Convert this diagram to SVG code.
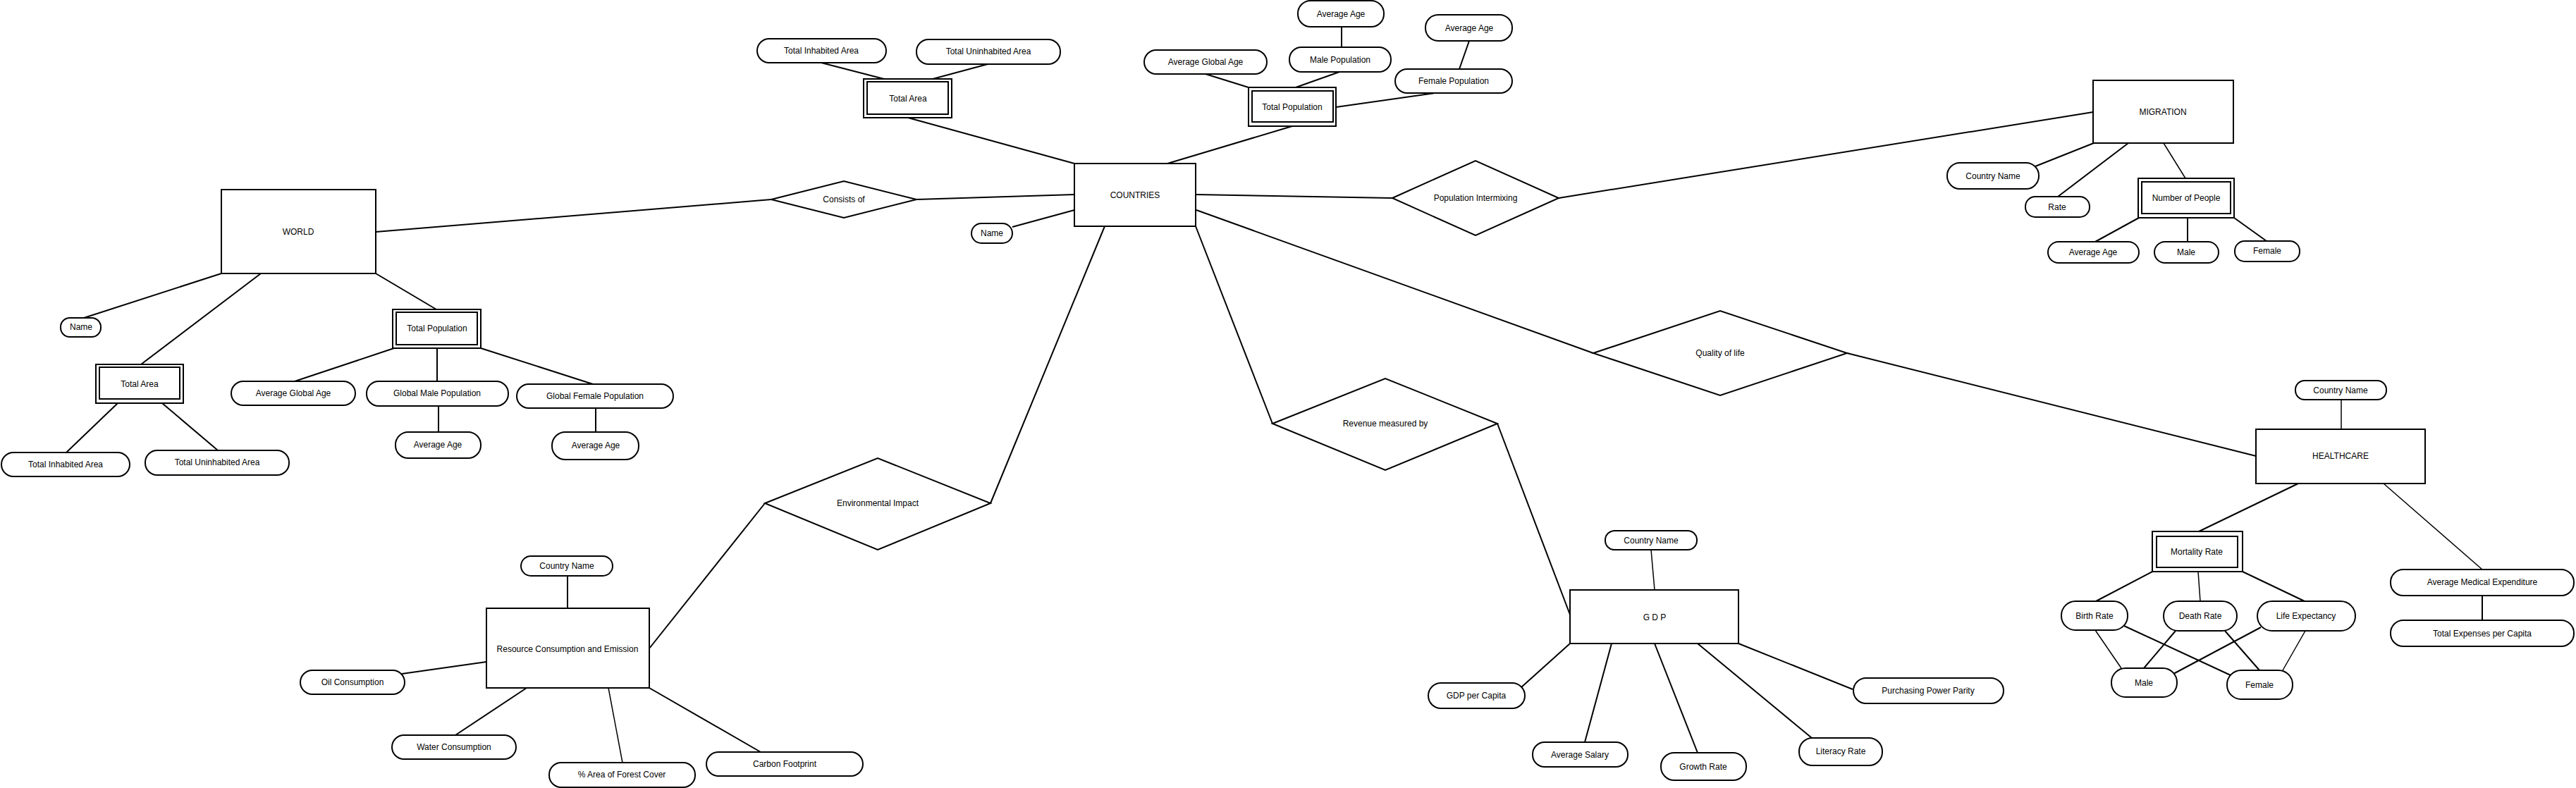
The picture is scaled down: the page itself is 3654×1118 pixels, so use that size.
<svg xmlns="http://www.w3.org/2000/svg" width="3654" height="1118" viewBox="0 0 3654 1118">
<style>
.bg{fill:#fff}
.s{fill:#fff;stroke:#000;stroke-width:2}
.t{font-family:"Liberation Sans",Arial,sans-serif;font-size:12px;fill:#000;text-anchor:middle;dominant-baseline:central}
.c line{stroke:#000;stroke-width:2}
.c line.th{stroke-width:1.5}
</style>
<rect class="bg" x="0" y="0" width="3654" height="1118"/>
<g id="connectors" class="c">
<line x1="533" y1="329" x2="1094" y2="283"/>
<line x1="1300" y1="283" x2="1524" y2="276"/>
<line x1="314" y1="388" x2="119" y2="451"/>
<line x1="370" y1="388" x2="200" y2="517"/>
<line x1="167" y1="572" x2="94" y2="642"/>
<line x1="230" y1="572" x2="309" y2="639"/>
<line x1="533" y1="388" x2="619" y2="439"/>
<line x1="559" y1="494" x2="418" y2="541"/>
<line x1="620" y1="494" x2="620" y2="541"/>
<line x1="682" y1="494" x2="841" y2="545"/>
<line x1="622" y1="576" x2="622" y2="613"/>
<line x1="845" y1="579" x2="845" y2="613"/>
<line x1="1524" y1="298" x2="1436" y2="322"/>
<line x1="1524" y1="232" x2="1288" y2="167"/>
<line x1="1254" y1="112" x2="1165" y2="89"/>
<line x1="1323" y1="112" x2="1401" y2="91"/>
<line x1="1656" y1="232" x2="1833" y2="179"/>
<line x1="1771" y1="124" x2="1710" y2="105"/>
<line x1="1838" y1="124" x2="1900" y2="102"/>
<line x1="1903" y1="67" x2="1903" y2="38"/>
<line x1="1895" y1="152" x2="2035" y2="132"/>
<line x1="2070" y1="98" x2="2084" y2="58"/>
<line x1="1696" y1="276" x2="1975" y2="281"/>
<line x1="2211" y1="281" x2="2969" y2="159"/>
<line x1="2970" y1="203" x2="2887" y2="236"/>
<line x1="3019" y1="203" x2="2919" y2="279"/>
<line class="th" x1="3069" y1="203" x2="3100" y2="253"/>
<line x1="3034" y1="309" x2="2972" y2="343"/>
<line x1="3103" y1="309" x2="3103" y2="343"/>
<line x1="3169" y1="309" x2="3215" y2="342"/>
<line x1="1697" y1="298" x2="2260" y2="501"/>
<line x1="2620" y1="501" x2="3200" y2="647"/>
<line class="th" x1="3321" y1="567" x2="3321" y2="609"/>
<line x1="3260" y1="686" x2="3119" y2="754"/>
<line class="th" x1="3381" y1="686" x2="3521" y2="808"/>
<line x1="3521" y1="845" x2="3521" y2="880"/>
<line x1="3053" y1="811" x2="2973" y2="853"/>
<line class="th" x1="3118" y1="811" x2="3121" y2="853"/>
<line x1="3181" y1="811" x2="3269" y2="853"/>
<line class="th" x1="2972" y1="894" x2="3009" y2="948"/>
<line x1="3013" y1="888" x2="3164" y2="958"/>
<line x1="3086" y1="895" x2="3041" y2="948"/>
<line x1="3156" y1="895" x2="3205" y2="951"/>
<line x1="3207" y1="890" x2="3083" y2="956"/>
<line class="th" x1="3270" y1="895" x2="3238" y2="951"/>
<line x1="1696" y1="321" x2="1805" y2="601"/>
<line x1="2124" y1="601" x2="2227" y2="872"/>
<line class="th" x1="2347" y1="837" x2="2342" y2="780"/>
<line x1="2227" y1="913" x2="2158" y2="975"/>
<line x1="2286" y1="913" x2="2248" y2="1053"/>
<line x1="2347" y1="913" x2="2408" y2="1068"/>
<line x1="2408" y1="913" x2="2570" y2="1047"/>
<line x1="2466" y1="913" x2="2628" y2="978"/>
<line x1="1567" y1="321" x2="1405" y2="714"/>
<line x1="1085" y1="714" x2="921" y2="920"/>
<line x1="805" y1="863" x2="805" y2="817"/>
<line x1="690" y1="939" x2="570" y2="956"/>
<line x1="747" y1="976" x2="646" y2="1043"/>
<line class="th" x1="863" y1="976" x2="883" y2="1082"/>
<line x1="921" y1="976" x2="1079" y2="1067"/>
</g>
<g id="world"><rect class="s" x="314" y="269" width="219" height="119"/><text class="t" x="423" y="329">WORLD</text></g>
<g id="w-name"><rect class="s" x="86" y="451" width="57" height="27" rx="13"/><text class="t" x="115" y="464">Name</text></g>
<g id="w-totalarea"><rect class="s" x="136" y="517" width="124" height="55"/><rect class="s" x="141" y="521" width="114" height="45"/><text class="t" x="198" y="545">Total Area</text></g>
<g id="w-tia"><rect class="s" x="2" y="642" width="182" height="34" rx="17"/><text class="t" x="93" y="659">Total Inhabited Area</text></g>
<g id="w-tua"><rect class="s" x="206" y="639" width="204" height="35" rx="17"/><text class="t" x="308" y="656">Total Uninhabited Area</text></g>
<g id="w-totalpop"><rect class="s" x="557" y="439" width="125" height="55"/><rect class="s" x="562" y="443" width="115" height="46"/><text class="t" x="620" y="466">Total Population</text></g>
<g id="w-aga"><rect class="s" x="328" y="541" width="176" height="34" rx="17"/><text class="t" x="416" y="558">Average Global Age</text></g>
<g id="w-gmp"><rect class="s" x="520" y="541" width="201" height="35" rx="17"/><text class="t" x="620" y="558">Global Male Population</text></g>
<g id="w-gfp"><rect class="s" x="733" y="545" width="222" height="34" rx="17"/><text class="t" x="844" y="562">Global Female Population</text></g>
<g id="w-aa1"><rect class="s" x="561" y="613" width="121" height="37" rx="18"/><text class="t" x="621" y="631">Average Age</text></g>
<g id="w-aa2"><rect class="s" x="783" y="613" width="123" height="39" rx="19"/><text class="t" x="845" y="632">Average Age</text></g>
<g id="consists"><polygon class="s" points="1094,283 1197,257 1300,283 1197,309"/><text class="t" x="1197" y="283">Consists of</text></g>
<g id="countries"><rect class="s" x="1524" y="232" width="172" height="89"/><text class="t" x="1610" y="277">COUNTRIES</text></g>
<g id="c-name"><rect class="s" x="1378" y="317" width="58" height="28" rx="14"/><text class="t" x="1407" y="331">Name</text></g>
<g id="c-totalarea"><rect class="s" x="1225" y="112" width="125" height="55"/><rect class="s" x="1230" y="116" width="115" height="46"/><text class="t" x="1288" y="140">Total Area</text></g>
<g id="c-tia"><rect class="s" x="1074" y="55" width="183" height="34" rx="17"/><text class="t" x="1165" y="72">Total Inhabited Area</text></g>
<g id="c-tua"><rect class="s" x="1300" y="56" width="204" height="35" rx="17"/><text class="t" x="1402" y="73">Total Uninhabited Area</text></g>
<g id="c-totalpop"><rect class="s" x="1771" y="124" width="124" height="55"/><rect class="s" x="1776" y="129" width="115" height="44"/><text class="t" x="1833" y="152">Total Population</text></g>
<g id="c-aga"><rect class="s" x="1623" y="71" width="174" height="34" rx="17"/><text class="t" x="1710" y="88">Average Global Age</text></g>
<g id="c-malepop"><rect class="s" x="1829" y="67" width="144" height="35" rx="17"/><text class="t" x="1901" y="85">Male Population</text></g>
<g id="c-aa-m"><rect class="s" x="1841" y="1" width="122" height="37" rx="18"/><text class="t" x="1902" y="20">Average Age</text></g>
<g id="c-femalepop"><rect class="s" x="1979" y="98" width="166" height="34" rx="17"/><text class="t" x="2062" y="115">Female Population</text></g>
<g id="c-aa-f"><rect class="s" x="2022" y="21" width="123" height="37" rx="18"/><text class="t" x="2084" y="40">Average Age</text></g>
<g id="intermixing"><polygon class="s" points="1975,281 2093,228 2211,281 2093,334"/><text class="t" x="2093" y="281">Population Intermixing</text></g>
<g id="migration"><rect class="s" x="2969" y="114" width="199" height="89"/><text class="t" x="3068" y="159">MIGRATION</text></g>
<g id="m-country"><rect class="s" x="2762" y="231" width="130" height="37" rx="18"/><text class="t" x="2827" y="250">Country Name</text></g>
<g id="m-rate"><rect class="s" x="2873" y="279" width="91" height="29" rx="14"/><text class="t" x="2918" y="294">Rate</text></g>
<g id="m-people"><rect class="s" x="3033" y="253" width="136" height="56"/><rect class="s" x="3038" y="258" width="126" height="45"/><text class="t" x="3101" y="281">Number of People</text></g>
<g id="m-avgage"><rect class="s" x="2905" y="343" width="129" height="30" rx="15"/><text class="t" x="2969" y="358">Average Age</text></g>
<g id="m-male"><rect class="s" x="3056" y="343" width="91" height="30" rx="15"/><text class="t" x="3101" y="358">Male</text></g>
<g id="m-female"><rect class="s" x="3170" y="342" width="92" height="29" rx="14"/><text class="t" x="3216" y="356">Female</text></g>
<g id="quality"><polygon class="s" points="2260,501 2440,441 2620,501 2440,561"/><text class="t" x="2440" y="501">Quality of life</text></g>
<g id="healthcare"><rect class="s" x="3200" y="609" width="240" height="77"/><text class="t" x="3320" y="647">HEALTHCARE</text></g>
<g id="h-country"><rect class="s" x="3256" y="540" width="129" height="27" rx="13"/><text class="t" x="3320" y="554">Country Name</text></g>
<g id="h-mortality"><rect class="s" x="3053" y="754" width="128" height="57"/><rect class="s" x="3059" y="761" width="115" height="44"/><text class="t" x="3116" y="783">Mortality Rate</text></g>
<g id="h-ame"><rect class="s" x="3391" y="808" width="260" height="37" rx="18"/><text class="t" x="3521" y="826">Average Medical Expenditure</text></g>
<g id="h-tepc"><rect class="s" x="3391" y="880" width="260" height="37" rx="18"/><text class="t" x="3521" y="899">Total Expenses per Capita</text></g>
<g id="h-birth"><rect class="s" x="2924" y="853" width="94" height="41" rx="20"/><text class="t" x="2971" y="874">Birth Rate</text></g>
<g id="h-death"><rect class="s" x="3069" y="853" width="104" height="42" rx="21"/><text class="t" x="3121" y="874">Death Rate</text></g>
<g id="h-life"><rect class="s" x="3202" y="853" width="139" height="42" rx="21"/><text class="t" x="3271" y="874">Life Expectancy</text></g>
<g id="h-male"><rect class="s" x="2995" y="948" width="93" height="41" rx="20"/><text class="t" x="3041" y="969">Male</text></g>
<g id="h-female"><rect class="s" x="3159" y="951" width="93" height="41" rx="20"/><text class="t" x="3205" y="972">Female</text></g>
<g id="revenue"><polygon class="s" points="1805,601 1965,537 2124,601 1965,667"/><text class="t" x="1965" y="601">Revenue measured by</text></g>
<g id="gdp"><rect class="s" x="2227" y="837" width="239" height="76"/><text class="t" x="2347" y="876">G D P</text></g>
<g id="g-country"><rect class="s" x="2277" y="753" width="130" height="27" rx="13"/><text class="t" x="2342" y="767">Country Name</text></g>
<g id="g-percapita"><rect class="s" x="2026" y="969" width="137" height="36" rx="18"/><text class="t" x="2094" y="987">GDP per Capita</text></g>
<g id="g-salary"><rect class="s" x="2174" y="1053" width="135" height="35" rx="17"/><text class="t" x="2241" y="1071">Average Salary</text></g>
<g id="g-growth"><rect class="s" x="2356" y="1068" width="121" height="39" rx="19"/><text class="t" x="2416" y="1088">Growth Rate</text></g>
<g id="g-literacy"><rect class="s" x="2552" y="1047" width="118" height="39" rx="19"/><text class="t" x="2611" y="1066">Literacy Rate</text></g>
<g id="g-ppp"><rect class="s" x="2629" y="962" width="213" height="36" rx="18"/><text class="t" x="2735" y="980">Purchasing Power Parity</text></g>
<g id="environmental"><polygon class="s" points="1085,714 1245,650 1405,714 1245,780"/><text class="t" x="1245" y="714">Environmental Impact</text></g>
<g id="resource"><rect class="s" x="690" y="863" width="231" height="113"/><text class="t" x="805" y="921">Resource Consumption and Emission</text></g>
<g id="r-country"><rect class="s" x="739" y="789" width="130" height="28" rx="14"/><text class="t" x="804" y="803">Country Name</text></g>
<g id="r-oil"><rect class="s" x="426" y="951" width="148" height="34" rx="17"/><text class="t" x="500" y="968">Oil Consumption</text></g>
<g id="r-water"><rect class="s" x="556" y="1043" width="176" height="34" rx="17"/><text class="t" x="644" y="1060">Water Consumption</text></g>
<g id="r-forest"><rect class="s" x="779" y="1082" width="207" height="35" rx="17"/><text class="t" x="882" y="1099">% Area of Forest Cover</text></g>
<g id="r-carbon"><rect class="s" x="1002" y="1067" width="222" height="34" rx="17"/><text class="t" x="1113" y="1084">Carbon Footprint</text></g>
</svg>
